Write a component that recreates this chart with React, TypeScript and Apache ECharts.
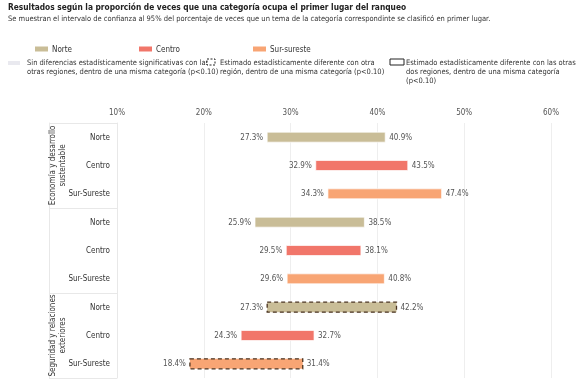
import React, { useEffect, useRef } from "react";
import * as echarts from "echarts";

const groups = [
  "Economía y desarrollo\nsustentable",
  "Gobierno y política",
  "Seguridad y relaciones\nexteriores",
];
const regions = ["Norte", "Centro", "Sur-Sureste"];
const legendNames = ["Norte", "Centro", "Sur-sureste"];
const regionColors = ["#c9bd97", "#f1766a", "#f8a574"];

// per region: values per group (Economía, Gobierno, Seguridad)
const lowNorte = [27.3, 25.9, 27.3];
const highNorte = [40.9, 38.5, 42.2];
const lowCentro = [32.9, 29.5, 24.3];
const highCentro = [43.5, 38.1, 32.7];
const lowSur = [34.3, 29.6, 18.4];
const highSur = [47.4, 40.8, 31.4];
// 1 = dashed border (estimado estadísticamente diferente)
const dashNorte = [0, 0, 1];
const dashCentro = [0, 0, 0];
const dashSur = [0, 0, 1];

const xTicks = [10, 20, 30, 40, 50, 60];

const FONT = "'Liberation Sans Narrow', 'DejaVu Sans Condensed', Roboto, sans-serif";

export default function App() {
  const ref = useRef<HTMLDivElement>(null);
  useEffect(() => {
    if (!ref.current) return;
    const chart = echarts.init(ref.current, undefined, { renderer: "svg" });

    const rowCats: string[] = [];
    groups.forEach((g, gi) => regions.forEach((r) => rowCats.push(gi + "|" + r)));

    const lows = [lowNorte, lowCentro, lowSur];
    const highs = [highNorte, highCentro, highSur];
    const dashes = [dashNorte, dashCentro, dashSur];

    const series = regions.map((r, ri) => ({
      type: "custom",
      name: legendNames[ri],
      xAxisIndex: 0,
      yAxisIndex: 0,
      itemStyle: { color: regionColors[ri] },
      encode: { x: [1, 2], y: 0 },
      data: groups.map((g, gi) => [gi * 3 + ri, lows[ri][gi], highs[ri][gi], dashes[ri][gi]]),
      renderItem: (params: any, api: any) => {
        const yi = api.value(0);
        const lo = api.value(1);
        const hi = api.value(2);
        const dashed = api.value(3) === 1;
        const p1 = api.coord([lo, yi]);
        const p2 = api.coord([hi, yi]);
        const h = 10;
        return {
          type: "group",
          children: [
            {
              type: "rect",
              shape: { x: p1[0], y: p1[1] - h / 2, width: p2[0] - p1[0], height: h },
              style: {
                fill: regionColors[ri],
                stroke: dashed ? "#4a3320" : "rgba(255,255,255,0.7)",
                lineWidth: dashed ? 1.3 : 1,
                lineDash: dashed ? [4, 3] : null,
              },
            },
            {
              type: "text",
              style: {
                text: lo.toFixed(1) + "%",
                x: p1[0] - 4,
                y: p1[1],
                align: "right",
                verticalAlign: "middle",
                fill: "#555",
                fontSize: 8,
                fontFamily: FONT,
              },
            },
            {
              type: "text",
              style: {
                text: hi.toFixed(1) + "%",
                x: p2[0] + 4,
                y: p2[1],
                align: "left",
                verticalAlign: "middle",
                fill: "#555",
                fontSize: 8,
                fontFamily: FONT,
              },
            },
          ],
        };
      },
    }));

    const legendPos = [30, 134, 248];
    const legends = legendNames.map((n, i) => ({
      data: [n],
      left: legendPos[i],
      top: 40,
      icon: "rect",
      itemWidth: 13,
      itemHeight: 5,
      itemGap: 4,
      textStyle: { fontSize: 8, color: "#333", fontFamily: FONT, padding: [0, 0, 0, -1] },
      selectedMode: false,
    }));

    const legText = { fontSize: 7.5, fill: "#333", fontFamily: FONT, lineHeight: 9 };

    chart.setOption({
      animation: false,
      textStyle: { fontFamily: FONT },
      title: {
        text: "Resultados según la proporción de veces que una categoría ocupa el primer lugar del ranqueo",
        subtext:
          "Se muestran el intervalo de confianza al 95% del porcentaje de veces que un tema de la categoría correspondinte se clasificó en primer lugar.",
        left: 8,
        top: 3,
        padding: 0,
        itemGap: 3,
        textStyle: { fontSize: 8.3, fontWeight: "bold", color: "#222", fontFamily: FONT },
        subtextStyle: { fontSize: 7.5, color: "#333", fontFamily: FONT },
      },
      legend: legends,
      graphic: [
        { type: "rect", shape: { x: 8, y: 61, width: 12, height: 4 }, style: { fill: "#e9e9ef" } },
        {
          type: "text",
          x: 27,
          y: 58,
          style: {
            ...legText,
            text: "Sin diferencias estadísticamente significativas con las\notras regiones, dentro de una misma categoría (p<0.10)",
          },
        },
        {
          type: "rect",
          shape: { x: 207, y: 59, width: 8, height: 6 },
          style: { fill: "#fff", stroke: "#222", lineWidth: 1, lineDash: [2, 1.5] },
        },
        {
          type: "text",
          x: 220,
          y: 58,
          style: {
            ...legText,
            text: "Estimado estadísticamente diferente con otra\nregión, dentro de una misma categoría (p<0.10)",
          },
        },
        {
          type: "rect",
          shape: { x: 390, y: 59, width: 14, height: 6 },
          style: { fill: "#fff", stroke: "#222", lineWidth: 1 },
        },
        {
          type: "text",
          x: 406,
          y: 58,
          style: {
            ...legText,
            text: "Estimado estadísticamente diferente con las otras\ndos regiones, dentro de una misma categoría\n(p<0.10)",
          },
        },
      ],
      grid: { left: 117, right: 31, top: 123, bottom: 7, containLabel: false },
      xAxis: {
        type: "value",
        position: "top",
        min: xTicks[0],
        max: xTicks[xTicks.length - 1],
        interval: 10,
        axisLine: { show: false },
        axisTick: { show: false },
        axisLabel: { formatter: "{value}%", color: "#555", fontSize: 8, margin: 7, fontFamily: FONT },
        splitLine: { show: true, lineStyle: { color: "#eeeeee", width: 1 } },
      },
      yAxis: [
        {
          type: "category",
          data: rowCats,
          inverse: true,
          position: "left",
          axisLine: { show: false },
          axisTick: { show: false },
          splitLine: { show: false },
          axisLabel: {
            formatter: (v: string) => v.split("|")[1],
            color: "#333",
            fontSize: 8,
            margin: 7,
            fontFamily: FONT,
          },
        },
        {
          type: "category",
          data: groups,
          inverse: true,
          position: "left",
          offset: 0,
          axisLine: { show: true, lineStyle: { color: "#e8e8e8" } },
          axisTick: {
            show: true,
            length: 68,
            interval: 0,
            alignWithLabel: false,
            lineStyle: { color: "#e8e8e8" },
          },
          splitLine: { show: false },
          axisLabel: {
            rotate: 90,
            margin: 50,
            color: "#333",
            fontSize: 8,
            lineHeight: 10,
            align: "center",
            fontFamily: FONT,
          },
        },
        {
          type: "category",
          data: groups,
          inverse: true,
          position: "left",
          offset: 68,
          axisLine: { show: true, lineStyle: { color: "#e8e8e8" } },
          axisTick: { show: false },
          axisLabel: { show: false },
          splitLine: { show: false },
        },
      ],
      series,
    });
    return () => chart.dispose();
  }, []);
  return <div ref={ref} style={{ position: "fixed", left: 0, top: 0, width: 582, height: 385 }} />;
}
